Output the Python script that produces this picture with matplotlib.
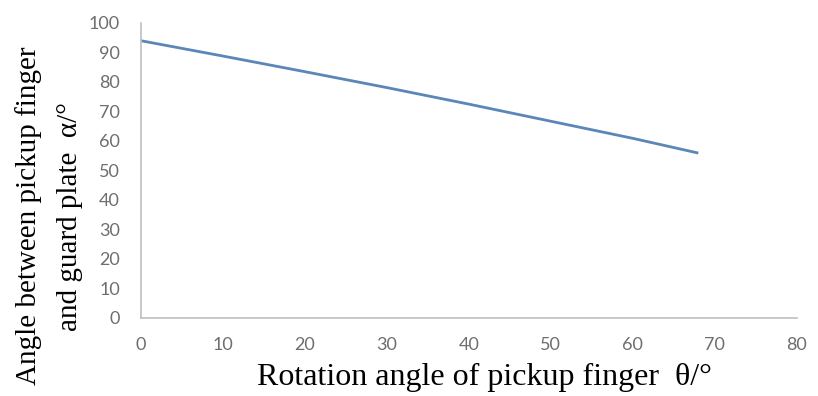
import matplotlib
matplotlib.use("Agg")
import matplotlib.pyplot as plt

# Rotation angle of pickup finger (deg) vs angle to guard plate (deg)
theta = [0, 10, 20, 30, 40, 50, 60, 68]
alpha = [94.0, 88.8, 83.5, 78.1, 72.5, 66.7, 60.9, 55.9]

x_ticks = [0, 10, 20, 30, 40, 50, 60, 70, 80]
y_ticks = [0, 10, 20, 30, 40, 50, 60, 70, 80, 90, 100]

fig = plt.figure(figsize=(8.18, 3.96), dpi=100)
ax = fig.add_axes([0.172, 0.197, 0.802, 0.745])

ax.plot(theta, alpha, color="#5a87b8", linewidth=2.0, solid_capstyle="butt")

ax.set_xlim(0, 80)
ax.set_ylim(0, 100)
ax.set_xticks(x_ticks)
ax.set_yticks(y_ticks)
ax.tick_params(length=0, labelsize=13, labelcolor="#6e6e6e")
ax.tick_params(axis="x", pad=14)
ax.tick_params(axis="y", pad=15)
for lbl in ax.get_xticklabels() + ax.get_yticklabels():
    lbl.set_fontfamily("Lato")

for side in ("top", "right"):
    ax.spines[side].set_visible(False)
for side in ("left", "bottom"):
    ax.spines[side].set_color("#bfbfbf")
    ax.spines[side].set_linewidth(1.2)

serif = "Liberation Serif"
ax.set_xlabel("Rotation angle of pickup finger  \u03b8/\u00b0", fontsize=23,
              family=serif)
ax.xaxis.set_label_coords(0.524, -0.152)
ax.set_ylabel("Angle between pickup finger\nand guard plate  \u03b1/\u00b0",
              fontsize=21, family=serif, linespacing=1.75)
ax.yaxis.set_label_coords(-0.088, 0.345)

fig.savefig("out.png", dpi=100)
